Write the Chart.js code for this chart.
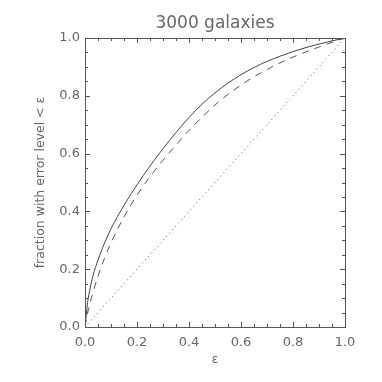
<!DOCTYPE html>
<html><head><meta charset="utf-8">
<script src="https://cdn.jsdelivr.net/npm/chart.js@4/dist/chart.umd.min.js"></script>
<style>html,body{margin:0;padding:0;background:#fff}#w{width:382px;height:382px}</style>
</head><body><div id="w"><canvas id="c" width="382" height="382"></canvas></div>
<script>
const eps = [0,0.01,0.02,0.03,0.05,0.075,0.1,0.15,0.2,0.25,0.3,0.35,0.4,0.45,0.5,0.55,0.6,0.65,0.7,0.75,0.8,0.85,0.9,0.95,1.0];
const solidFrac = [0,0.085,0.135,0.175,0.232,0.29,0.34,0.421,0.492,0.557,0.617,0.673,0.725,0.771,0.81,0.844,0.873,0.898,0.919,0.937,0.953,0.967,0.979,0.99,1.0];
const dashedFrac = [0,0.048,0.085,0.118,0.176,0.238,0.291,0.381,0.456,0.52,0.577,0.63,0.68,0.726,0.768,0.805,0.837,0.866,0.891,0.914,0.934,0.952,0.969,0.985,1.0];
const diagEps = [0,1];
const diagFrac = [0,1];
const tickLabels = ['0.0','0.2','0.4','0.6','0.8','1.0'];
const titleText = '3000 galaxies';
const xTitle = 'ε';
const yTitle = 'fraction with error level < ε';

const pts = (xs, ys) => xs.map((x,i)=>({x:x,y:ys[i]}));
const ink = '#555';
const txt = '#666';
const font = "'DejaVu Sans', sans-serif";

const frame = {
  id:'frame',
  afterDatasetsDraw(chart){
    const {ctx, chartArea:a, scales:{x,y}} = chart;
    ctx.save();
    ctx.strokeStyle = ink; ctx.lineWidth = 1;
    ctx.strokeRect(Math.round(a.left)+0.5, Math.round(a.top)+0.5, Math.round(a.right-a.left), Math.round(a.bottom-a.top));
    ctx.beginPath();
    for (let i=0;i<=20;i++){
      const v = i*0.05;
      const L = (i%4===0)?5:3;
      const px = Math.round(x.getPixelForValue(v))+0.5;
      ctx.moveTo(px, a.bottom); ctx.lineTo(px, a.bottom-L);
      ctx.moveTo(px, a.top); ctx.lineTo(px, a.top+L);
      const py = Math.round(y.getPixelForValue(v))+0.5;
      ctx.moveTo(a.left, py); ctx.lineTo(a.left+L, py);
      ctx.moveTo(a.right, py); ctx.lineTo(a.right-L, py);
    }
    ctx.stroke();
    ctx.fillStyle = txt;
    ctx.font = "17px " + font;
    ctx.textAlign = 'center'; ctx.textBaseline = 'middle';
    ctx.fillText(titleText, (a.left+a.right)/2, 24);
    ctx.restore();
  }
};

new Chart(document.getElementById('c'), {
  type:'line',
  data:{datasets:[
    {data:pts(eps,solidFrac), borderColor:'#444', borderWidth:1, pointRadius:0, cubicInterpolationMode:'monotone', fill:false},
    {data:pts(eps,dashedFrac), borderColor:'#555', borderWidth:1, borderDash:[7,6], pointRadius:0, cubicInterpolationMode:'monotone', fill:false},
    {data:pts(diagEps,diagFrac), borderColor:'#555', borderWidth:1, borderDash:[1,3.5], pointRadius:0, fill:false}
  ]},
  options:{
    responsive:false, animation:false,
    layout:{padding:{left:33,right:37,top:38,bottom:0}},
    plugins:{ legend:{display:false}, tooltip:{enabled:false}, title:{display:false} },
    scales:{
      x:{type:'linear', min:0, max:1,
        afterFit(s){ s.height = 55; },
        grid:{display:false, drawTicks:false, tickLength:0}, border:{display:false},
        ticks:{stepSize:0.2, color:txt, padding:8, font:{family:font,size:13}, maxRotation:0,
          callback:(v)=>tickLabels[Math.round(v*5)]},
        title:{display:true, text:xTitle, color:txt, font:{family:font,size:12}, padding:{top:0,bottom:15}}
      },
      y:{type:'linear', min:0, max:1,
        afterFit(s){ s.width = 52; },
        grid:{display:false, drawTicks:false, tickLength:0}, border:{display:false},
        ticks:{stepSize:0.2, color:txt, padding:5, font:{family:font,size:13},
          callback:(v)=>tickLabels[Math.round(v*5)]},
        title:{display:true, text:yTitle, color:txt, font:{family:font,size:12.5}, padding:{top:0,bottom:0}}
      }
    }
  },
  plugins:[frame]
});
</script></body></html>
